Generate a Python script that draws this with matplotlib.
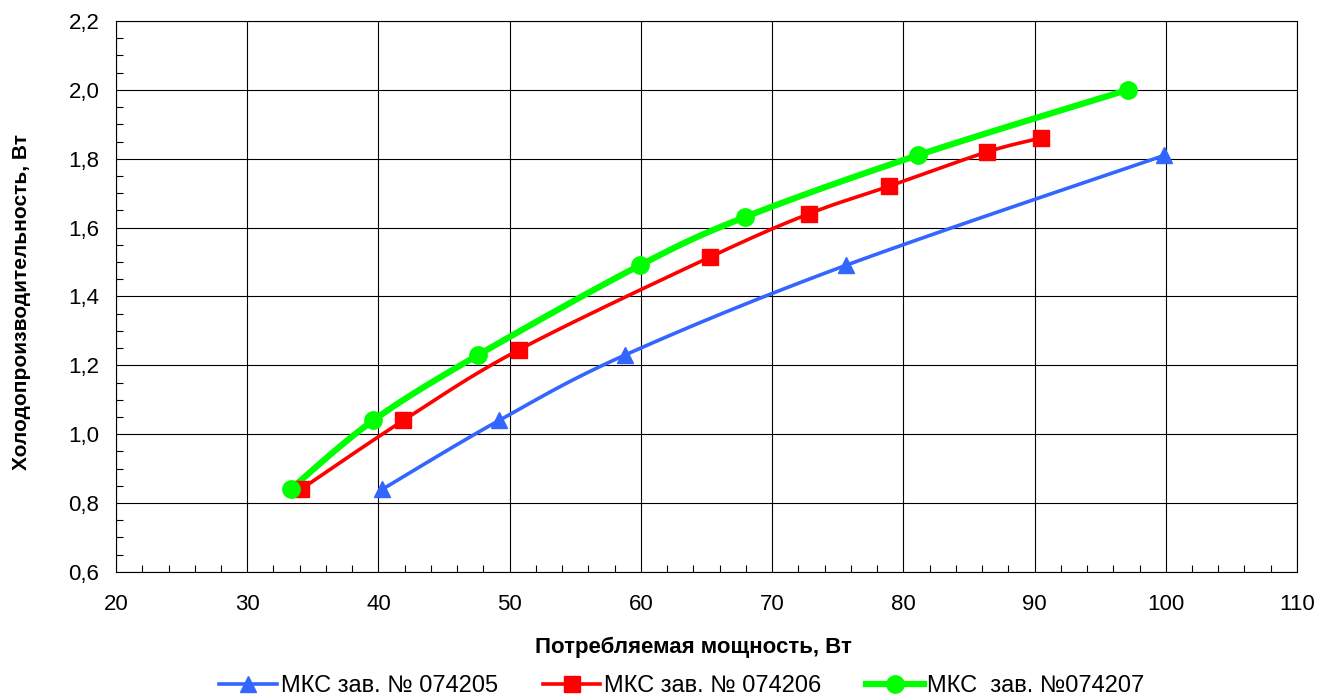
import numpy as np
import matplotlib
matplotlib.use("Agg")
import matplotlib.pyplot as plt
from matplotlib.ticker import MultipleLocator, FuncFormatter

plt.rcParams['font.family'] = ['Liberation Sans', 'DejaVu Sans']

# data
blue_x = [40.3, 49.2, 58.8, 75.6, 99.9]
blue_y = [0.84, 1.04, 1.23, 1.49, 1.81]
red_x = [34.1, 41.9, 50.7, 65.3, 72.8, 78.9, 86.4, 90.5]
red_y = [0.84, 1.04, 1.245, 1.515, 1.64, 1.72, 1.82, 1.86]
green_x = [33.3, 39.6, 47.6, 59.9, 67.9, 81.1, 97.1]
green_y = [0.84, 1.04, 1.23, 1.49, 1.63, 1.81, 2.0]

labels = ["МКС зав. № 074205", "МКС зав. № 074206", "МКС  зав. №074207"]


def smooth(x, y, n=20):
    # Catmull-Rom curve through the points, like Excel's smoothed line
    p = np.column_stack([x, y]).astype(float)
    p = np.vstack([p[0], p, p[-1]])
    out = []
    t = np.linspace(0, 1, n, endpoint=False)[:, None]
    for i in range(1, len(p) - 2):
        p0, p1, p2, p3 = p[i - 1], p[i], p[i + 1], p[i + 2]
        seg = 0.5 * ((2 * p1) + (-p0 + p2) * t + (2 * p0 - 5 * p1 + 4 * p2 - p3) * t ** 2
                     + (-p0 + 3 * p1 - 3 * p2 + p3) * t ** 3)
        out.append(seg)
    out.append(p[-2][None, :])
    out = np.vstack(out)
    return out[:, 0], out[:, 1]


fig = plt.figure(figsize=(13.32, 7), dpi=100)
ax = fig.add_axes([0.0871, 0.183, 0.8866, 0.787])

series = [
    (blue_x, blue_y, '#3366FF', '^', 2.6, 12),
    (red_x, red_y, '#FF0000', 's', 2.6, 11.5),
    (green_x, green_y, '#00FF00', 'o', 4.5, 12.5),
]
handles = []
for (x, y, c, m, lw, ms), lab in zip(series, labels):
    sx, sy = smooth(x, y)
    ax.plot(sx, sy, color=c, lw=lw, solid_capstyle='butt', zorder=3)
    ax.plot(x, y, ls='none', marker=m, ms=ms, color=c, mec=c, zorder=4)
    h, = ax.plot([], [], color=c, lw=lw, marker=m, ms=ms, mec=c, label=lab)
    handles.append(h)

ax.set_xlim(20, 110)
ax.set_ylim(0.6, 2.2)
ax.xaxis.set_major_locator(MultipleLocator(10))
ax.xaxis.set_minor_locator(MultipleLocator(2))
ax.yaxis.set_major_locator(MultipleLocator(0.2))
ax.yaxis.set_minor_locator(MultipleLocator(0.05))
ax.yaxis.set_major_formatter(FuncFormatter(lambda v, p: f"{v:.1f}".replace('.', ',')))
ax.tick_params(which='major', length=0, labelsize=16)
ax.tick_params(axis='x', which='major', pad=16)
ax.tick_params(axis='y', which='major', pad=12)
ax.tick_params(which='minor', direction='in', length=5, width=0.8, color='black')
ax.grid(True, which='major', color='black', lw=0.8)
ax.set_axisbelow(True)
for s in ax.spines.values():
    s.set_color('black')
    s.set_linewidth(0.8)

ax.set_xlabel("Потребляемая мощность, Вт", fontsize=16, fontweight='bold')
ax.set_ylabel("Холодопроизводительность, Вт", fontsize=15, fontweight='bold')
ax.xaxis.set_label_coords(0.489, -0.118)
ax.yaxis.set_label_coords(-0.072, 0.49)

fig.legend(handles=handles, loc='center', bbox_to_anchor=(0.512, 0.02), ncol=3, frameon=False,
           fontsize=17, handlelength=2.45, handletextpad=0.15, columnspacing=1.9)

fig.savefig("out.png", dpi=100)
